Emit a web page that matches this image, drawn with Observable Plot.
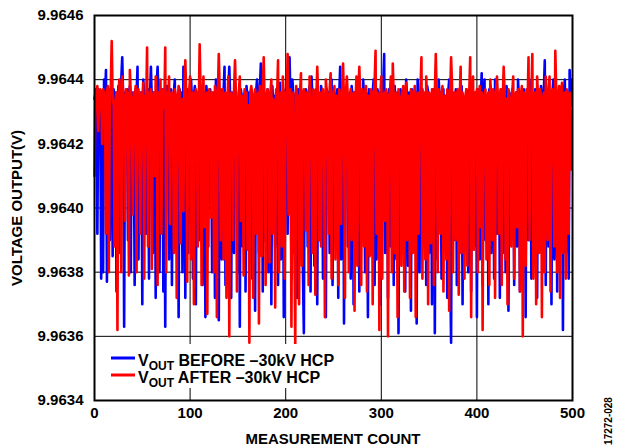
<!DOCTYPE html>
<html>
<head>
<meta charset="utf-8">
<script src="https://cdn.jsdelivr.net/npm/d3@7"></script>
<script src="https://cdn.jsdelivr.net/npm/@observablehq/plot@0.6"></script>
<style>
  html, body { margin: 0; padding: 0; background: #fff; }
</style>
</head>
<body>
<div id="chart"></div>
<script>
// Tick labels
const xTicks = [0, 100, 200, 300, 400, 500];
const yTicks = [9.9634, 9.9636, 9.9638, 9.9640, 9.9642, 9.9644, 9.9646];

// Series names
const seriesNames = ["BEFORE", "AFTER"];

const voutBefore = [
  9.96434, 9.96436, 9.96432, 9.96392, 9.96437, 9.96435, 9.96433, 9.96378, 9.96436, 9.96380, 9.96440, 9.96434, 9.96443, 9.96377, 9.96435, 9.96437, 9.96390, 9.96433, 9.96436, 9.96385,
  9.96437, 9.96434, 9.96436, 9.96374, 9.96432, 9.96438, 9.96435, 9.96386, 9.96440, 9.96447, 9.96434, 9.96363, 9.96436, 9.96433, 9.96437, 9.96390, 9.96435, 9.96438, 9.96380, 9.96434,
  9.96436, 9.96432, 9.96376, 9.96437, 9.96435, 9.96444, 9.96384, 9.96433, 9.96436, 9.96434, 9.96370, 9.96440, 9.96435, 9.96432, 9.96392, 9.96436, 9.96437, 9.96378, 9.96434, 9.96444,
  9.96433, 9.96386, 9.96436, 9.96435, 9.96372, 9.96438, 9.96444, 9.96434, 9.96380, 9.96432, 9.96436, 9.96437, 9.96374, 9.96435, 9.96363, 9.96433, 9.96438, 9.96436, 9.96384, 9.96434,
  9.96437, 9.96376, 9.96432, 9.96436, 9.96440, 9.96390, 9.96435, 9.96433, 9.96366, 9.96437, 9.96434, 9.96436, 9.96380, 9.96444, 9.96432, 9.96372, 9.96435, 9.96437, 9.96386, 9.96434,
  9.96436, 9.96440, 9.96433, 9.96378, 9.96435, 9.96438, 9.96370, 9.96434, 9.96436, 9.96432, 9.96390, 9.96437, 9.96435, 9.96376, 9.96433, 9.96436, 9.96366, 9.96438, 9.96434, 9.96388,
  9.96435, 9.96437, 9.96432, 9.96380, 9.96436, 9.96434, 9.96372, 9.96440, 9.96433, 9.96436, 9.96365, 9.96435, 9.96437, 9.96384, 9.96432, 9.96436, 9.96444, 9.96376, 9.96434, 9.96390,
  9.96437, 9.96444, 9.96433, 9.96372, 9.96436, 9.96435, 9.96386, 9.96438, 9.96432, 9.96434, 9.96380, 9.96436, 9.96363, 9.96437, 9.96435, 9.96388, 9.96433, 9.96436, 9.96374, 9.96438,
  9.96434, 9.96436, 9.96392, 9.96432, 9.96437, 9.96378, 9.96435, 9.96433, 9.96368, 9.96436, 9.96440, 9.96434, 9.96386, 9.96437, 9.96445, 9.96432, 9.96374, 9.96436, 9.96390, 9.96435,
  9.96433, 9.96437, 9.96380, 9.96436, 9.96434, 9.96370, 9.96438, 9.96432, 9.96435, 9.96388, 9.96436, 9.96437, 9.96376, 9.96433, 9.96439, 9.96384, 9.96434, 9.96436, 9.96366, 9.96435,
  9.96437, 9.96432, 9.96392, 9.96436, 9.96447, 9.96434, 9.96378, 9.96440, 9.96435, 9.96386, 9.96433, 9.96436, 9.96372, 9.96437, 9.96434, 9.96390, 9.96436, 9.96432, 9.96380, 9.96361,
  9.96435, 9.96437, 9.96433, 9.96388, 9.96436, 9.96438, 9.96374, 9.96441, 9.96434, 9.96432, 9.96382, 9.96436, 9.96437, 9.96370, 9.96435, 9.96433, 9.96390, 9.96438, 9.96436, 9.96378,
  9.96434, 9.96432, 9.96366, 9.96437, 9.96435, 9.96436, 9.96386, 9.96433, 9.96440, 9.96376, 9.96434, 9.96436, 9.96392, 9.96432, 9.96437, 9.96372, 9.96435, 9.96444, 9.96384, 9.96434,
  9.96436, 9.96364, 9.96433, 9.96437, 9.96435, 9.96388, 9.96432, 9.96436, 9.96378, 9.96438, 9.96434, 9.96370, 9.96436, 9.96433, 9.96386, 9.96437, 9.96435, 9.96374, 9.96432, 9.96436,
  9.96392, 9.96440, 9.96434, 9.96380, 9.96436, 9.96433, 9.96366, 9.96437, 9.96435, 9.96432, 9.96388, 9.96436, 9.96440, 9.96376, 9.96434, 9.96384, 9.96437, 9.96433, 9.96436, 9.96370,
  9.96435, 9.96432, 9.96438, 9.96448, 9.96386, 9.96436, 9.96434, 9.96372, 9.96437, 9.96433, 9.96388, 9.96436, 9.96435, 9.96376, 9.96438, 9.96432, 9.96384, 9.96436, 9.96361, 9.96434,
  9.96437, 9.96435, 9.96390, 9.96433, 9.96436, 9.96374, 9.96440, 9.96434, 9.96382, 9.96436, 9.96432, 9.96368, 9.96437, 9.96435, 9.96388, 9.96433, 9.96436, 9.96364, 9.96440, 9.96434,
  9.96380, 9.96436, 9.96432, 9.96437, 9.96392, 9.96435, 9.96433, 9.96376, 9.96438, 9.96436, 9.96386, 9.96434, 9.96432, 9.96370, 9.96437, 9.96435, 9.96361, 9.96436, 9.96433, 9.96384,
  9.96440, 9.96434, 9.96436, 9.96378, 9.96432, 9.96437, 9.96388, 9.96435, 9.96433, 9.96372, 9.96436, 9.96440, 9.96384, 9.96358, 9.96434, 9.96436, 9.96390, 9.96432, 9.96437, 9.96376,
  9.96435, 9.96433, 9.96386, 9.96436, 9.96438, 9.96370, 9.96434, 9.96432, 9.96392, 9.96437, 9.96435, 9.96380, 9.96433, 9.96436, 9.96374, 9.96438, 9.96434, 9.96388, 9.96436, 9.96432,
  9.96366, 9.96437, 9.96435, 9.96384, 9.96433, 9.96442, 9.96376, 9.96436, 9.96440, 9.96390, 9.96434, 9.96432, 9.96370, 9.96437, 9.96435, 9.96386, 9.96433, 9.96436, 9.96378, 9.96440,
  9.96434, 9.96392, 9.96436, 9.96432, 9.96372, 9.96437, 9.96435, 9.96386, 9.96433, 9.96436, 9.96380, 9.96438, 9.96434, 9.96368, 9.96436, 9.96432, 9.96390, 9.96437, 9.96435, 9.96376,
  9.96433, 9.96436, 9.96388, 9.96440, 9.96434, 9.96374, 9.96436, 9.96432, 9.96384, 9.96437, 9.96435, 9.96366, 9.96433, 9.96436, 9.96390, 9.96440, 9.96434, 9.96378, 9.96436, 9.96432,
  9.96386, 9.96437, 9.96435, 9.96372, 9.96433, 9.96436, 9.96392, 9.96438, 9.96434, 9.96380, 9.96436, 9.96446, 9.96376, 9.96432, 9.96437, 9.96388, 9.96435, 9.96433, 9.96370, 9.96436,
  9.96440, 9.96384, 9.96434, 9.96436, 9.96374, 9.96432, 9.96437, 9.96390, 9.96435, 9.96433, 9.96362, 9.96436, 9.96440, 9.96386, 9.96434, 9.96436, 9.96378, 9.96443, 9.96432, 9.96440
];

const voutAfter = [
  9.96410, 9.96437, 9.96436, 9.96438, 9.96424, 9.96436, 9.96437, 9.96435, 9.96420, 9.96437, 9.96436, 9.96434, 9.96392, 9.96436, 9.96438, 9.96380, 9.96435, 9.96437, 9.96452, 9.96434,
  9.96432, 9.96388, 9.96434, 9.96436, 9.96362, 9.96435, 9.96440, 9.96433, 9.96380, 9.96441, 9.96436, 9.96431, 9.96396, 9.96437, 9.96434, 9.96436, 9.96379, 9.96443, 9.96435, 9.96433,
  9.96398, 9.96436, 9.96432, 9.96438, 9.96380, 9.96434, 9.96437, 9.96430, 9.96392, 9.96436, 9.96433, 9.96439, 9.96378, 9.96435, 9.96431, 9.96450, 9.96388, 9.96436, 9.96434, 9.96437,
  9.96381, 9.96433, 9.96436, 9.96410, 9.96441, 9.96434, 9.96376, 9.96436, 9.96432, 9.96440, 9.96392, 9.96435, 9.96437, 9.96431, 9.96450, 9.96380, 9.96436, 9.96433, 9.96441, 9.96395,
  9.96434, 9.96436, 9.96430, 9.96386, 9.96437, 9.96435, 9.96372, 9.96433, 9.96438, 9.96436, 9.96389, 9.96432, 9.96434, 9.96399, 9.96437, 9.96446, 9.96435, 9.96377, 9.96431, 9.96436,
  9.96441, 9.96384, 9.96434, 9.96436, 9.96370, 9.96433, 9.96437, 9.96435, 9.96388, 9.96430, 9.96451, 9.96436, 9.96376, 9.96434, 9.96441, 9.96394, 9.96432, 9.96436, 9.96367, 9.96435,
  9.96437, 9.96433, 9.96397, 9.96436, 9.96431, 9.96380, 9.96438, 9.96434, 9.96366, 9.96435, 9.96448, 9.96436, 9.96390, 9.96432, 9.96437, 9.96384, 9.96434, 9.96436, 9.96372, 9.96433,
  9.96441, 9.96360, 9.96435, 9.96436, 9.96432, 9.96390, 9.96437, 9.96446, 9.96434, 9.96374, 9.96431, 9.96436, 9.96441, 9.96396, 9.96435, 9.96433, 9.96379, 9.96437, 9.96434, 9.96436,
  9.96387, 9.96432, 9.96358, 9.96436, 9.96438, 9.96435, 9.96372, 9.96434, 9.96437, 9.96392, 9.96433, 9.96436, 9.96364, 9.96438, 9.96434, 9.96385, 9.96436, 9.96447, 9.96432, 9.96376,
  9.96435, 9.96437, 9.96433, 9.96383, 9.96436, 9.96440, 9.96392, 9.96434, 9.96431, 9.96369, 9.96437, 9.96435, 9.96446, 9.96380, 9.96433, 9.96436, 9.96388, 9.96441, 9.96434, 9.96378,
  9.96436, 9.96432, 9.96448, 9.96398, 9.96435, 9.96437, 9.96363, 9.96434, 9.96436, 9.96390, 9.96357, 9.96438, 9.96433, 9.96435, 9.96370, 9.96436, 9.96442, 9.96382, 9.96434, 9.96437,
  9.96431, 9.96393, 9.96436, 9.96434, 9.96376, 9.96441, 9.96435, 9.96432, 9.96386, 9.96437, 9.96436, 9.96373, 9.96433, 9.96444, 9.96434, 9.96390, 9.96436, 9.96388, 9.96435, 9.96437,
  9.96432, 9.96366, 9.96440, 9.96436, 9.96434, 9.96392, 9.96437, 9.96442, 9.96378, 9.96433, 9.96436, 9.96438, 9.96384, 9.96435, 9.96428, 9.96376, 9.96437, 9.96434, 9.96395, 9.96436,
  9.96445, 9.96433, 9.96372, 9.96436, 9.96441, 9.96434, 9.96380, 9.96431, 9.96437, 9.96390, 9.96435, 9.96436, 9.96368, 9.96433, 9.96441, 9.96382, 9.96436, 9.96444, 9.96434, 9.96376,
  9.96437, 9.96432, 9.96388, 9.96436, 9.96438, 9.96374, 9.96435, 9.96433, 9.96385, 9.96437, 9.96436, 9.96370, 9.96434, 9.96439, 9.96449, 9.96392, 9.96436, 9.96432, 9.96362, 9.96435,
  9.96441, 9.96378, 9.96434, 9.96436, 9.96396, 9.96437, 9.96433, 9.96360, 9.96435, 9.96436, 9.96441, 9.96380, 9.96445, 9.96434, 9.96386, 9.96436, 9.96432, 9.96366, 9.96437, 9.96435,
  9.96433, 9.96382, 9.96436, 9.96438, 9.96374, 9.96434, 9.96439, 9.96390, 9.96435, 9.96432, 9.96372, 9.96437, 9.96436, 9.96386, 9.96434, 9.96438, 9.96366, 9.96433, 9.96436, 9.96392,
  9.96435, 9.96437, 9.96447, 9.96378, 9.96434, 9.96436, 9.96384, 9.96441, 9.96432, 9.96370, 9.96436, 9.96435, 9.96389, 9.96437, 9.96433, 9.96376, 9.96436, 9.96448, 9.96434, 9.96380,
  9.96437, 9.96433, 9.96392, 9.96436, 9.96438, 9.96374, 9.96435, 9.96432, 9.96384, 9.96437, 9.96436, 9.96368, 9.96434, 9.96447, 9.96438, 9.96380, 9.96433, 9.96436, 9.96390, 9.96435,
  9.96437, 9.96373, 9.96434, 9.96444, 9.96386, 9.96436, 9.96432, 9.96378, 9.96435, 9.96437, 9.96382, 9.96434, 9.96436, 9.96447, 9.96366, 9.96433, 9.96441, 9.96387, 9.96436, 9.96434,
  9.96437, 9.96380, 9.96432, 9.96438, 9.96394, 9.96436, 9.96362, 9.96435, 9.96434, 9.96437, 9.96384, 9.96433, 9.96436, 9.96376, 9.96440, 9.96435, 9.96390, 9.96437, 9.96432, 9.96372,
  9.96436, 9.96441, 9.96434, 9.96392, 9.96435, 9.96437, 9.96376, 9.96433, 9.96444, 9.96436, 9.96384, 9.96434, 9.96370, 9.96437, 9.96435, 9.96432, 9.96388, 9.96436, 9.96441, 9.96378,
  9.96434, 9.96436, 9.96394, 9.96437, 9.96433, 9.96374, 9.96435, 9.96438, 9.96360, 9.96436, 9.96434, 9.96382, 9.96437, 9.96432, 9.96447, 9.96390, 9.96436, 9.96435, 9.96448, 9.96378,
  9.96433, 9.96436, 9.96370, 9.96441, 9.96434, 9.96386, 9.96437, 9.96435, 9.96366, 9.96432, 9.96436, 9.96380, 9.96441, 9.96434, 9.96390, 9.96436, 9.96441, 9.96374, 9.96435, 9.96437,
  9.96433, 9.96388, 9.96449, 9.96436, 9.96380, 9.96434, 9.96438, 9.96372, 9.96435, 9.96439, 9.96386, 9.96433, 9.96436, 9.96378, 9.96437, 9.96434, 9.96392, 9.96436, 9.96430, 9.96412
];

const toRows = (vals) => vals.map((v, i) => ({count: i, v}));
const beforeRows = toRows(voutBefore);
const afterRows = toRows(voutAfter);

const W = 629, H = 448;
const font = "'Liberation Sans', Arial, Helvetica, sans-serif";

const chart = Plot.plot({
  width: W,
  height: H,
  marginLeft: 94,
  marginRight: 57,
  marginTop: 15,
  marginBottom: 48,
  style: {fontFamily: font, fontSize: "15px", fontWeight: "bold", color: "#000", background: "#fff"},
  x: {domain: [0, 500]},
  y: {domain: [9.9634, 9.9646]},
  marks: [
    Plot.gridX(xTicks, {stroke: "#000", strokeOpacity: 1, strokeWidth: 1}),
    Plot.gridY(yTicks, {stroke: "#000", strokeOpacity: 1, strokeWidth: 1}),
    Plot.line(beforeRows, {x: "count", y: "v", stroke: "#0000ff", strokeWidth: 2.6, strokeLinejoin: "round"}),
    Plot.line(afterRows, {x: "count", y: "v", stroke: "#ff0000", strokeWidth: 2.6, strokeLinejoin: "round"}),
    Plot.axisX(xTicks, {tickSize: 0, tickPadding: 7, label: null, tickFormat: d => String(d)}),
    Plot.axisY(yTicks, {tickSize: 0, tickPadding: 11, label: null, tickFormat: d => d.toFixed(4)}),
    Plot.frame({stroke: "#000", strokeWidth: 2})
  ]
});

document.getElementById("chart").appendChild(chart);

const svg = d3.select(chart);
const sx = chart.scale("x");

// legend box
const lg = svg.append("g").attr("font-family", font).attr("font-weight", "bold").attr("text-anchor", "start");
lg.append("rect").attr("x", 104).attr("y", 344).attr("width", 236).attr("height", 44).attr("fill", "#fff");
const legendItems = [
  {name: seriesNames[0], color: "#0000ff", base: 366},
  {name: seriesNames[1], color: "#ff0000", base: 383}
];
legendItems.forEach(it => {
  lg.append("line").attr("x1", 111).attr("x2", 135).attr("y1", it.base - 8).attr("y2", it.base - 8)
    .attr("stroke", it.color).attr("stroke-width", 3);
  const t = lg.append("text").attr("x", 138).attr("y", it.base).attr("font-size", 16).attr("fill", "#000");
  t.append("tspan").text("V");
  t.append("tspan").attr("font-size", 12).attr("dy", 4).text("OUT");
  t.append("tspan").attr("dy", -4).text(" " + it.name + " \u201330kV HCP");
});

// axis titles
svg.append("text").attr("x", (sx.range[0] + sx.range[1]) / 2).attr("y", 444)
  .attr("text-anchor", "middle").attr("font-family", font).attr("font-weight", "bold").attr("font-size", 15)
  .text("MEASUREMENT COUNT");
svg.append("text").attr("transform", "translate(22,208) rotate(-90)")
  .attr("text-anchor", "middle").attr("font-family", font).attr("font-weight", "bold").attr("font-size", 15)
  .text("VOLTAGE OUTPUT(V)");
svg.append("text").attr("transform", "translate(612,421) rotate(-90)")
  .attr("text-anchor", "middle").attr("font-family", font).attr("font-size", 10)
  .text("17272-028");
</script>
</body>
</html>
